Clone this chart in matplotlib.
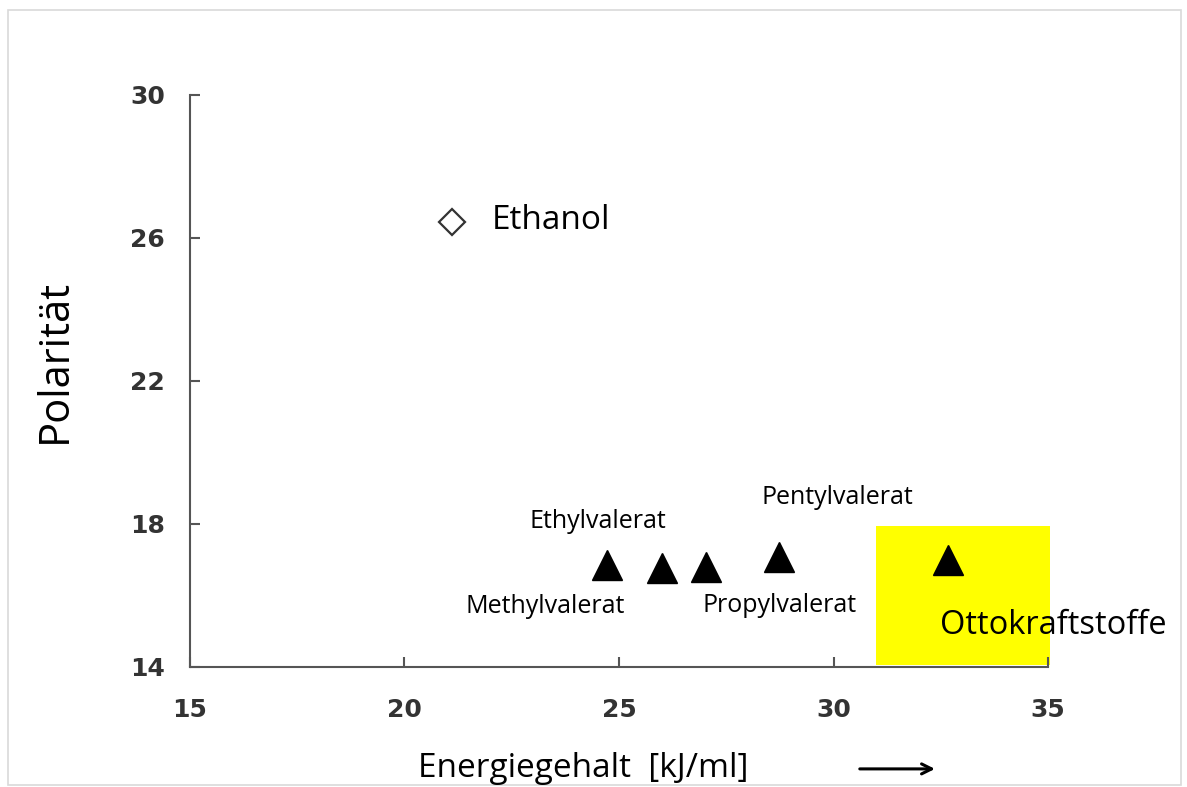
import matplotlib
matplotlib.use("Agg")
import matplotlib.pyplot as plt
from matplotlib.patches import Rectangle, FancyArrowPatch

# Data
ethanol_x = [21.1]
ethanol_y = [26.45]
ester_names = ["Methylvalerat", "Ethylvalerat", "Propylvalerat", "Pentylvalerat", "Ottokraftstoffe"]
ester_x = [24.72, 26.0, 27.03, 28.73, 32.67]
ester_y = [16.85, 16.77, 16.8, 17.08, 17.0]
x_ticks = [15, 20, 25, 30, 35]
y_ticks = [14, 18, 22, 26, 30]

fig = plt.figure(figsize=(11.87, 7.87), dpi=100)
ax = fig.add_axes([0.160, 0.1525, 0.723, 0.7268])

# light frame around the whole picture
fig.patches.append(Rectangle((0.007, 0.003), 0.988, 0.984, transform=fig.transFigure,
                             fill=False, edgecolor="#d9d9d9", linewidth=1.2))

# yellow box behind the petrol point
ax.add_patch(Rectangle((31.0, 14.06), 4.05, 3.88, facecolor="#ffff00",
                       edgecolor="none", clip_on=False, zorder=0))

ax.plot(ethanol_x, ethanol_y, "D", ms=13, mfc="white", mec="#333333", mew=1.6, clip_on=False)
ax.plot(ester_x, ester_y, "^", ms=21, color="black", linestyle="none", clip_on=False)

font = "Open Sans"
ax.text(22.04, 26.5, "Ethanol", fontsize=24, family=font, va="center", ha="left")
ax.text(24.51, 18.06, "Ethylvalerat", fontsize=18, family=font, va="center", ha="center")
ax.text(23.28, 15.68, "Methylvalerat", fontsize=18, family=font, va="center", ha="center")
ax.text(28.73, 15.71, "Propylvalerat", fontsize=18, family=font, va="center", ha="center")
ax.text(30.08, 18.73, "Pentylvalerat", fontsize=18, family=font, va="center", ha="center")
ax.text(32.48, 15.15, "Ottokraftstoffe", fontsize=23.5, family=font, va="center", ha="left",
        clip_on=False)

ax.set_xlim(15, 35)
ax.set_ylim(14, 30)
ax.set_xticks(x_ticks)
ax.set_yticks(y_ticks)
for s in ["top", "right"]:
    ax.spines[s].set_visible(False)
for s in ["left", "bottom"]:
    ax.spines[s].set_color("#555555")
    ax.spines[s].set_linewidth(1.5)
ax.tick_params(direction="in", length=7, width=1.5, color="#555555",
               labelsize=18, labelcolor="#333333")
for lab in ax.get_xticklabels() + ax.get_yticklabels():
    lab.set_fontweight("bold")
    lab.set_family("DejaVu Sans")
ax.tick_params(axis="y", pad=18)
ax.tick_params(axis="x", pad=22)

fig.text(0.046, 0.541, "Polarität", fontsize=30, family=font, rotation=90,
         ha="center", va="center")
fig.text(0.491, 0.024, "Energiegehalt  [kJ/ml]", fontsize=24, family=font,
         ha="center", va="center")
fig.patches.append(FancyArrowPatch(
    (0.722, 0.023), (0.790, 0.023), transform=fig.transFigure,
    arrowstyle="->", mutation_scale=18, linewidth=2.2, color="black"))

fig.savefig("out.png", dpi=100)
